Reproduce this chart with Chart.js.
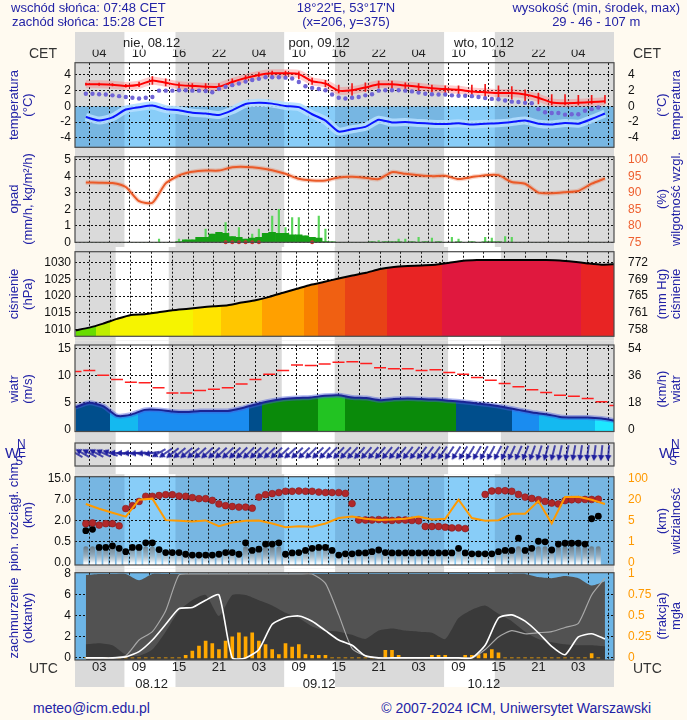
<!DOCTYPE html>
<html lang="pl">
<head>
<meta charset="utf-8">
<title>meteorogram</title>
<script src="https://cdn.jsdelivr.net/npm/chart.js@4.4.1/dist/chart.umd.min.js"></script>
<style>
  body { margin: 0; background: #fffaf0; }
  #page { position: relative; width: 687px; height: 720px; overflow: hidden; background: #fffaf0;
          font-family: "Liberation Sans", Arial, Helvetica, sans-serif; }
  #page canvas { position: absolute; left: 0; }
  .txt { position: absolute; white-space: nowrap; color: #2323a6; font-size: 13px; line-height: 14px; text-align: center; }
  .rot { position: absolute; white-space: nowrap; color: #2323a6; font-size: 13px; line-height: 14px;
         text-align: center; transform: translate(-50%, -50%) rotate(-90deg); }
  .zone { position: absolute; color: #333; font-size: 14px; line-height: 16px; }
  .cmp { position: absolute; color: #2323a6; font-size: 12px; line-height: 12px; }
  .foot { position: absolute; color: #2323a6; font-size: 14px; line-height: 16px; white-space: nowrap; }
</style>
</head>
<body>
<div id="page">
  <canvas id="cTemp"  width="687" height="152" style="top:0px"></canvas>
  <canvas id="cRain"  width="687" height="104" style="top:148px"></canvas>
  <canvas id="cPres"  width="687" height="98"  style="top:243px"></canvas>
  <canvas id="cWind"  width="687" height="102" style="top:337px"></canvas>
  <canvas id="cDir"   width="687" height="41"  style="top:434px"></canvas>
  <canvas id="cBase"  width="687" height="104" style="top:468px"></canvas>
  <canvas id="cCloud" width="687" height="126" style="top:566px"></canvas>

  <div class="txt" style="left:11px;top:1px">wschód słońca: 07:48 CET<br>zachód słońca: 15:28 CET</div>
  <div class="txt" style="left:346px;top:1px;transform:translateX(-50%)">18°22'E, 53°17'N<br>(x=206, y=375)</div>
  <div class="txt" style="right:7px;top:1px">wysokość (min, środek, max)<br>29 - 46 - 107 m</div>

  <div class="zone" style="left:29px;top:45px">CET</div>
  <div class="zone" style="left:633px;top:45px">CET</div>
  <div class="zone" style="left:29px;top:660px">UTC</div>
  <div class="zone" style="left:633px;top:660px">UTC</div>

  <div class="rot" style="left:21px;top:105px">temperatura<br>(°C)</div>
  <div class="rot" style="left:669px;top:105px">(°C)<br>temperatura</div>
  <div class="rot" style="left:21px;top:199px">opad<br>(mm/h, kg/m²/h)</div>
  <div class="rot" style="left:669px;top:199px">(%)<br>wilgotność wzgl.</div>
  <div class="rot" style="left:21px;top:294px">ciśnienie<br>(hPa)</div>
  <div class="rot" style="left:669px;top:294px">(mm Hg)<br>ciśnienie</div>
  <div class="rot" style="left:21px;top:389px">wiatr<br>(m/s)</div>
  <div class="rot" style="left:669px;top:389px">(km/h)<br>wiatr</div>
  <div class="rot" style="left:21px;top:515px">pion. rozciągł. chm.<br>(km)</div>
  <div class="rot" style="left:669px;top:521px">(km)<br>widzialność</div>
  <div class="rot" style="left:21px;top:618px">zachmurzenie<br>(oktanty)</div>
  <div class="rot" style="left:669px;top:616px">(frakcja)<br>mgła</div>

  <div class="cmp" style="left:5px;top:445px;font-size:15px;line-height:15px">W</div>
  <div class="cmp" style="left:17px;top:438px">N</div>
  <div class="cmp" style="left:18px;top:447px">E</div>
  <div class="cmp" style="left:15px;top:455px">S</div>
  <div class="cmp" style="left:659px;top:445px;font-size:15px;line-height:15px">W</div>
  <div class="cmp" style="left:671px;top:438px">N</div>
  <div class="cmp" style="left:672px;top:447px">E</div>
  <div class="cmp" style="left:669px;top:455px">S</div>

  <div class="foot" style="left:33px;top:700px">meteo@icm.edu.pl</div>
  <div class="foot" style="right:36px;top:700px">© 2007-2024 ICM, Uniwersytet Warszawski</div>
</div>

<script>
// time axis: hours UTC counted from 08.12 00:00
const hours = Array.from({ length: 78 }, (_, i) => i + 1);
const hours2 = Array.from({ length: 40 }, (_, i) => 2 * i + 1);
const gridHours = Array.from({ length: 26 }, (_, i) => 3 * (i + 1));
const labelHours = [3, 9, 15, 21, 27, 33, 39, 45, 51, 57, 63, 69, 75];
const cetLabels = ['04', '10', '16', '22', '04', '10', '16', '22', '04', '10', '16', '22', '04'];
const utcLabels = ['03', '09', '15', '21', '03', '09', '15', '21', '03', '09', '15', '21', '03'];
const dateHours = [12, 36.2, 60];
const dateTopLabels = ['nie, 08.12', 'pon, 09.12', 'wto, 10.12'];
const dateBottomLabels = ['08.12', '09.12', '10.12'];
const sunriseH = [6.8, 30.8, 54.83];
const sunsetH = [14.47, 38.45, 62.45];

// temperature (°C), 2-hourly
const tempAir = [2.8, 2.8, 2.75, 2.6, 2.75, 3.3, 3.0, 2.7, 2.6, 2.5, 2.5, 3.1, 3.6, 4.0, 4.2, 4.2, 4.1, 3.2, 2.9, 2.0,
  2.05, 2.4, 2.8, 2.8, 2.65, 2.5, 2.3, 2.2, 2.1, 1.9, 1.8, 1.7, 1.7, 1.5, 1.1, 0.5, 0.4, 0.45, 0.55, 0.65];
const tempLow = [2.7, 2.65, 2.6, 2.45, 2.5, 2.8, 2.6, 2.3, 2.2, 2.1, 2.1, 2.7, 3.3, 3.7, 3.9, 3.7, 3.5, 2.8, 2.5, 1.7,
  1.4, 1.9, 2.3, 2.2, 2.1, 2.0, 1.8, 1.6, 1.5, 1.1, 1.0, 1.0, 0.9, 0.6, 0.3, 0.2, 0.2, 0.2, 0.3, 0.4];
const tempHigh = [2.95, 2.95, 2.9, 2.8, 3.1, 3.8, 3.5, 3.0, 2.9, 2.9, 2.9, 3.5, 3.9, 4.3, 4.5, 4.5, 4.4, 3.6, 3.3, 2.7,
  2.9, 3.0, 3.2, 3.2, 3.0, 2.9, 2.7, 2.6, 2.6, 2.7, 2.8, 2.6, 2.5, 2.1, 1.7, 1.5, 1.5, 1.4, 1.4, 1.4];
const tempSensed = [-1.35, -1.8, -1.4, -0.4, -0.1, 0.1, -0.35, -0.5, -0.8, -0.9, -1.1, -0.5, 0.3, 0.45, 0.35, 0.05, -0.1, -1.0, -1.8, -3.2,
  -2.9, -2.6, -1.7, -2.05, -2.0, -2.1, -2.2, -2.25, -2.15, -2.3, -2.2, -2.15, -2.0, -1.8, -2.2, -2.3, -2.1, -2.2, -1.6, -0.9];
// dew point (°C), hourly
const dewPoint = [1.6, 1.6, 1.55, 1.5, 1.4, 1.3, 1.2, 1.1, 1.0, 1.1, 1.2,
  2.0, 2.0, 2.0, 2.05, 2.05, 2.0, 2.0, 1.95, 1.8,
  2.2, 2.5, 2.7, 2.9, 3.15, 3.35, 3.5,
  3.7, 3.7, 3.7, 3.65, 3.55, 3.1,
  2.55, 2.35, 2.2, 2.05, 1.5, 1.1, 1.0,
  1.1, 1.2, 1.4, 1.55, 2.0, 2.05, 2.05,
  2.05, 2.0, 1.9, 1.75, 1.6, 1.55, 1.5, 1.5,
  1.4, 1.35, 1.35, 1.3, 1.2, 1.05, 0.95,
  0.9, 0.75, 0.6, 0.55, 0.45, 0.4,
  -0.35, -0.75, -0.85, -0.85, -1.05, -1.0, -1.0, -0.55, -0.35, -0.15];

// precipitation (mm/h), hourly; relative humidity (%), 2-hourly
const precipMain = [0, 0, 0, 0, 0, 0, 0, 0, 0, 0, 0, 0, 0, 0,
  0.05, 0.15, 0.15, 0.3, 0.3, 0.5, 0.6, 0.55, 0.35, 0.3, 0.2, 0.25, 0.3, 0.55, 0.6, 0.55, 0.55, 0.45, 0.45, 0.4, 0.3, 0.25, 0.05, 0.02,
  0, 0, 0, 0, 0, 0.02, 0, 0.02, 0.03, 0.02, 0, 0.02, 0, 0.02, 0, 0.02, 0, 0, 0.02, 0,
  0.02, 0, 0.02, 0.03, 0.02, 0, 0, 0, 0, 0, 0, 0, 0, 0, 0, 0, 0, 0, 0, 0];
const precipMax = [0, 0, 0, 0, 0, 0, 0, 0, 0, 0, 0, 0.2, 0, 0,
  0.2, 0.15, 0.15, 0.3, 0.8, 0.5, 0.6, 1.2, 0.35, 0.9, 0.2, 0.5, 0.8, 0.55, 1.6, 2.0, 0.9, 1.5, 1.5, 0.4, 0.3, 1.6, 0.8, 0.02,
  0, 0, 0, 0, 0, 0.02, 0.1, 0.02, 0.03, 0.2, 0.2, 0.02, 0.3, 0.02, 0.25, 0.02, 0, 0.3, 0.2, 0,
  0.02, 0, 0.3, 0.25, 0.02, 0.35, 0.3, 0, 0, 0, 0, 0, 0, 0, 0, 0, 0, 0, 0, 0];
const freezeHours = [22, 23, 24, 25, 26, 27, 35];
const humidity = [93.2, 93.1, 93.0, 91.8, 87.5, 87.0, 92.9, 95.3, 96.4, 96.8, 96.8, 97.8, 97.9, 97.6, 96.9, 95.8, 94.3, 93.8, 93.8, 94.7,
  94.9, 94.6, 94.2, 96.3, 95.8, 95.4, 95.1, 95.2, 94.2, 94.8, 95.4, 95.4, 93.3, 92.8, 90.1, 89.9, 90.2, 90.6, 92.8, 94.4];

// sea level pressure (hPa), 2-hourly
const pressure = [1009.8, 1010.6, 1011.8, 1013.2, 1014.4, 1014.6, 1015.2, 1015.8, 1016.2, 1016.6,
  1017.0, 1017.3, 1018.1, 1018.8, 1019.8, 1021.0, 1022.2, 1023.4, 1024.3, 1025.3,
  1026.2, 1027.0, 1028.1, 1028.7, 1029.0, 1029.2, 1029.4, 1030.0, 1030.6, 1030.8,
  1030.8, 1030.8, 1030.8, 1030.8, 1030.8, 1030.7, 1030.3, 1029.8, 1029.4, 1029.6];

// wind (m/s), 2-hourly; direction (deg, from), hourly
const windSpeed = [4.1, 4.9, 4.3, 2.5, 2.7, 3.6, 3.6, 3.3, 3.2, 3.4, 3.4, 3.4, 3.9, 4.6, 5.2, 5.6, 5.8, 5.9, 6.2, 6.3,
  5.9, 5.8, 5.4, 5.6, 5.7, 5.6, 5.5, 5.3, 5.1, 4.8, 4.5, 4.1, 3.6, 3.1, 2.8, 2.3, 2.2, 2.2, 2.0, 1.6];
const windGust = [10.7, 10.9, 10.0, 9.2, 8.7, 8.6, 7.7, 6.7, 6.7, 7.2, 7.4, 7.7, 8.4, 9.2, 10.2, 10.9, 11.9, 11.8, 12.1, 12.4,
  12.5, 12.2, 11.4, 11.2, 11.2, 10.9, 11.0, 10.5, 10.2, 9.6, 9.1, 8.5, 7.9, 7.3, 6.8, 6.3, 6.1, 5.7, 5.1, 4.4];
const windDirFrom = [120, 120, 118, 118, 115, 110, 95, 90, 88, 85, 85, 80,
  60, 55, 52, 50, 50, 50, 48, 48,
  47, 47, 46, 46, 45, 45, 46, 46, 47, 47, 48, 48, 47, 46, 45, 45, 44, 44, 43, 43, 42, 42, 42, 41, 41, 40, 40, 40, 39, 39,
  38, 37, 36, 35, 34, 33, 32, 31, 30, 29, 28, 27, 26, 25,
  24, 22, 20, 18, 16, 14, 13, 12, 10, 9, 8, 7, 6, 5];

// cloud top / base (km), hourly; visibility (km), 2-hourly
const cloudTop = [1.8, 1.85, 1.7, 1.8, 1.8, 1.65, 4.9, 5.6, 6.6, 8.3, 8.3, 8.6, 8.9, 8.9, 8.4, 8.3, 7.8, 7.4, 7.4, 6.85,
  6.0, 5.6, 5.4, 5.25, 5.25, 5.0, 8.0, 8.9, 9.3, 9.7, 10.2, 10.2, 10.3, 10.2, 10.2, 9.9, 9.7, 9.7, 9.7, 9.4,
  6.1, 2.2, 2.2, 2.2, 2.3, 2.2, 2.1, 2.2, 2.2, 2.1, 2.0, 1.6, 1.6, 1.6, 1.55, 1.5, 1.5, 1.45, null, null,
  9.0, 10.3, 10.4, 10.4, 10.2, 9.0, 8.0, 7.5, 7.0, 6.6, 6.2, 6.0, 6.8, 7.0, 7.0, 7.1, 7.1, 7.2];
const cloudBase = [1.3, 1.4, 0.37, 0.37, 0.41, 0.35, 0.27, 0.37, 0.37, 0.48, 0.48, 0.32, 0.25, 0.25, 0.25, 0.21, 0.19, 0.19, 0.19, 0.19,
  0.21, 0.25, 0.25, 0.21, 0.48, 0.3, 0.33, 0.45, 0.45, 0.48, 0.21, 0.24, 0.25, 0.3, 0.35, 0.37, 0.37, 0.3, 0.19, 0.22,
  0.22, 0.24, 0.24, 0.27, 0.31, 0.25, 0.24, 0.24, 0.24, 0.24, 0.24, 0.24, 0.24, 0.24, 0.24, 0.24, 0.35, 0.24, 0.22, 0.22,
  0.22, 0.22, 0.27, 0.3, 0.3, 0.77, 0.3, 0.35, 0.55, 0.51, 0.31, 0.45, 0.47, 0.47, 0.47, 0.45, 2.5, 3.1];
const visibility = [17, 13.6, 10.7, 8.0, 20, 24, 5.5, 5.0, 4.9, 5.3, 4.0, 4.7, 5.0, 5.2, 4.5, 3.8, 4.0, 3.9, 4.5, 7.0,
  8.0, 6.5, 5.6, 6.0, 6.5, 8.0, 6.0, 6.5, 20, 7.0, 5.0, 5.5, 10, 10, 19, 4.5, 30, 31, 20, 17];

// cloud cover (octants), 2-hourly; fog (fraction), hourly
const cloudTotal = [7.9, 8, 8, 8, 7.4, 8, 8, 8, 8, 8, 8, 8, 8, 8, 8, 8, 8, 8, 8, 8,
  8, 8, 8, 8, 8, 8, 8, 8, 8, 8, 8, 8, 8, 8, 7.7, 7.6, 7.8, 7.6, 6.9, 7.3];
const cloudLowMid = [1.3, 1.4, 1.2, 0.3, 0.2, 0.8, 2.5, 4.5, 5.5, 6.0, 4.0, 6.0, 6.0, 5.5, 5.0, 4.3, 3.8, 3.0, 2.6, 2.5,
  2.2, 1.8, 2.6, 2.8, 2.6, 2.5, 2.4, 1.8, 3.8, 4.6, 5.0, 4.2, 3.5, 2.5, 1.8, 1.5, 1.3, 1.2, 1.2, 1.1];
const cloudLineWhite = [0, 0, 0, 0.1, 0.6, 1.7, 3.2, 4.7, 4.8, 5.5, 6.0, 0, 0, 0.8, 3.2, 3.85, 4.0, 3.5, 2.6, 1.7,
  1.2, 0.2, 0, 0, 0, 0, 0, 0, 0, 0, 1.2, 3.8, 4.1, 3.5, 2.4, 1.1, 0.3, 2.0, 2.3, 1.8];
const cloudLineGrey = [0, 0, 0, 0.2, 1.7, 2.5, 4.5, 7.9, 8, 8, 8, 8, 8, 8, 8, 8, 8, 8, 7.1, 4.1,
  0.9, 0.2, 0, 0, 0, 0, 0, 0, 0, 0, 0.8, 2.0, 2.6, 2.3, 2.4, 2.5, 2.9, 3.3, 6.0, 7.6];
const fogFraction = [0, 0, 0, 0, 0, 0, 0, 0, 0, 0, 0, 0, 0, 0, 0,
  0.03, 0.08, 0.14, 0.2, 0.17, 0.1, 0.2, 0.25, 0.3, 0.25, 0.3, 0.2, 0.16, 0.1, 0.04, 0.17, 0.13, 0.16, 0.04, 0.03, 0.03, 0.03,
  0, 0, 0, 0, 0, 0, 0, 0, 0.09, 0.09, 0.03, 0, 0, 0, 0, 0.03, 0.03, 0.03, 0, 0, 0.03, 0.03, 0.04, 0.05, 0.1, 0.06,
  0, 0, 0, 0, 0, 0, 0, 0, 0, 0, 0, 0, 0, 0.05, 0];

// axis ticks
const tempTicks = [-4, -2, 0, 2, 4];
const tempTickLabels = ['-4', '-2', '0', '2', '4'];
const rainTicks = [0, 1, 2, 3, 4, 5];
const rainTickLabels = ['0', '1', '2', '3', '4', '5'];
const humTicks = [75, 80, 85, 90, 95, 100];
const humTickLabels = ['75', '80', '85', '90', '95', '100'];
const presTicks = [1010, 1015, 1020, 1025, 1030];
const presTickLabels = ['1010', '1015', '1020', '1025', '1030'];
const presMmLabels = ['758', '761', '765', '769', '772'];
const windTicks = [0, 5, 10, 15];
const windTickLabels = ['0', '5', '10', '15'];
const windKmhTicks = [0, 18, 36, 54];
const windKmhLabels = ['0', '18', '36', '54'];
const baseKnots = [0, 0.5, 2, 7, 15];
const baseTickLabels = ['0.0', '0.5', '2.0', '7.0', '15.0'];
const visKnots = [0, 1, 5, 20, 100];
const visTickLabels = ['0', '1', '5', '20', '100'];
const cloudTicks = [0, 2, 4, 6, 8];
const cloudTickLabels = ['0', '2', '4', '6', '8'];
const fogTicks = [0, 0.25, 0.5, 0.75, 1];
const fogTickLabels = ['0', '0.25', '0.5', '0.75', '1'];

const X_MIN = 0.93, X_MAX = 78.8;
const GRID = '#111';
const NIGHT_GREY = '#dadada';
const BLUE_NIGHT = '#77b6e2', BLUE_DAY = '#88cdf8', SKY = '#6db5e6';

Chart.defaults.font.family = '"Liberation Sans", Arial, Helvetica, sans-serif';
Chart.defaults.font.size = 12;
Chart.defaults.color = '#111';

const pts = (xs, ys) => xs.map((x, i) => ({ x: x, y: ys[i] }));

// piecewise axis for cloud heights and visibility: knots sit on equally spaced ticks
function toIdx(v, knots) {
  if (v == null) return null;
  for (let i = 1; i < knots.length; i++) {
    if (v <= knots[i]) return i - 1 + (v - knots[i - 1]) / (knots[i] - knots[i - 1]);
  }
  return knots.length - 1;
}

const presColors = [[1011, '#66dc00'], [1013, '#bdee00'], [1016.5, '#f6f400'], [1017.2, '#ffe400'], [1019, '#ffc600'],
  [1022.3, '#ffa000'], [1024.3, '#f88000'], [1026, '#f06012'], [1028.2, '#e84216'], [1030, '#e82424'], [9999, '#e0183e']];
const presColor = p => presColors.find(c => p < c[0])[1];
const windColors = [[2.05, '#1ee6ff'], [3.0, '#14b9f0'], [4.05, '#1a8cf0'], [5.15, '#004e8c'], [6.1, '#0a8a0a'], [99, '#22c322']];
const windColor = v => windColors.find(c => v < c[0])[1];

// fill under a line, coloured in vertical strips by value
function stripFill(values, colorOf) {
  return ctx => {
    const chart = ctx.chart, a = chart.chartArea;
    if (!a) return 'transparent';
    const x = chart.scales.x, w = a.right - a.left;
    const g = chart.ctx.createLinearGradient(a.left, 0, a.right, 0);
    const frac = h => Math.min(1, Math.max(0, (x.getPixelForValue(h) - a.left) / w));
    hours2.forEach((h, i) => {
      const col = colorOf(values[i]);
      g.addColorStop(frac(h - 1), col);
      g.addColorStop(frac(h + 1), col);
    });
    return g;
  };
}

// day/night bands and panel backgrounds
const meteoPlugin = {
  id: 'meteo',
  beforeDraw(chart, args, o) {
    const { ctx, chartArea: a, scales } = chart;
    const x = scales.x, w = a.right - a.left;
    const dayRects = (top, h, color) => {
      ctx.fillStyle = color;
      sunriseH.forEach((s, i) => {
        const x0 = Math.max(a.left, x.getPixelForValue(s));
        const x1 = Math.min(a.right, x.getPixelForValue(sunsetH[i]));
        if (x1 > x0) ctx.fillRect(x0, top, x1 - x0, h);
      });
    };
    ctx.save();
    ctx.fillStyle = NIGHT_GREY;
    ctx.fillRect(a.left, o.bandTop, w, o.bandBottom - o.bandTop);
    dayRects(o.bandTop, o.bandBottom - o.bandTop, '#ffffff');
    if (o.panel === 'frost') {
      const y0 = scales.y.getPixelForValue(0);
      ctx.fillStyle = BLUE_NIGHT;
      ctx.fillRect(a.left, y0, w, a.bottom - y0);
      dayRects(y0, a.bottom - y0, BLUE_DAY);
    } else if (o.panel === 'blue') {
      ctx.fillStyle = BLUE_NIGHT;
      ctx.fillRect(a.left, a.top, w, a.bottom - a.top);
      dayRects(a.top, a.bottom - a.top, BLUE_DAY);
    } else if (o.panel === 'sky') {
      ctx.fillStyle = SKY;
      ctx.fillRect(a.left, a.top, w, a.bottom - a.top);
    }
    ctx.restore();
  },
  afterDraw(chart) {
    const { ctx, chartArea: a } = chart;
    ctx.save();
    ctx.strokeStyle = '#4a4a4a';
    ctx.lineWidth = 1.2;
    ctx.strokeRect(a.left, a.top, a.right - a.left, a.bottom - a.top);
    ctx.restore();
  }
};

function makeChart(id, cfg) {
  const skip = cfg.gridSkip || [];
  const noPad = s => { s.paddingTop = 0; s.paddingBottom = 0; s.paddingLeft = 0; s.paddingRight = 0; };
  const scales = {
    x: {
      type: 'linear', min: X_MIN, max: X_MAX, position: cfg.xPos || 'bottom', z: 1, weight: 0,
      afterBuildTicks: s => { s.ticks = gridHours.map(v => ({ value: v })); },
      afterFit: s => { s.height = cfg.xHeight || 0; noPad(s); },
      grid: { color: GRID, drawTicks: false, borderDash: [2, 2] },
      border: { display: false, dash: [2, 2] },
      ticks: {
        display: !!cfg.xLabels, autoSkip: false, maxRotation: 0, padding: cfg.xPad || 0,
        font: { size: 13 }, color: '#222',
        callback: v => { const i = labelHours.indexOf(v); return (i < 0 || !cfg.xLabels) ? '' : cfg.xLabels[i]; }
      }
    },
    y: {
      type: 'linear', min: cfg.yMin, max: cfg.yMax, position: 'left', z: 1,
      afterFit: s => { s.width = 75; noPad(s); },
      grid: {
        display: !!cfg.yTicks, drawTicks: false, borderDash: [2, 2],
        color: c => (c.tick && skip.includes(c.tick.value)) ? 'rgba(0,0,0,0)' : GRID
      },
      border: { display: false, dash: [2, 2] },
      ticks: { display: !!cfg.yTicks, autoSkip: false, padding: 4, color: '#111',
               callback: (v, i) => cfg.yLabels ? cfg.yLabels[i] : '' }
    },
    y2: {
      type: 'linear', min: cfg.y2Min ?? cfg.yMin, max: cfg.y2Max ?? cfg.yMax, position: 'right', z: 1,
      afterFit: s => { s.width = 73; noPad(s); },
      grid: { display: false },
      border: { display: false },
      ticks: { display: !!cfg.y2Ticks, autoSkip: false, padding: 6, color: cfg.y2Color || '#111',
               callback: (v, i) => cfg.y2Labels ? cfg.y2Labels[i] : '' }
    }
  };
  if (cfg.yTicks) scales.y.afterBuildTicks = s => { s.ticks = cfg.yTicks.map(v => ({ value: v })); };
  if (cfg.y2Ticks) scales.y2.afterBuildTicks = s => { s.ticks = cfg.y2Ticks.map(v => ({ value: v })); };
  if (cfg.dateLabels) {
    scales.xd = {
      type: 'linear', min: X_MIN, max: X_MAX, position: cfg.xPos, weight: 10, z: 1,
      afterBuildTicks: s => { s.ticks = dateHours.map(v => ({ value: v })); },
      afterFit: s => { s.height = cfg.dateHeight; noPad(s); },
      grid: { display: false },
      border: { display: false },
      ticks: { autoSkip: false, maxRotation: 0, padding: cfg.datePad || 0, font: { size: 13 }, color: '#222',
               callback: (v, i) => cfg.dateLabels[i] }
    };
  }
  return new Chart(document.getElementById(id), {
    type: 'line',
    data: { datasets: cfg.datasets },
    options: {
      responsive: false, animation: false, events: [],
      layout: { padding: { top: cfg.padTop, bottom: cfg.padBottom, left: 0, right: 0 } },
      elements: { point: { radius: 0 }, line: { tension: 0.2 } },
      plugins: {
        legend: { display: false }, tooltip: { enabled: false },
        meteo: { bandTop: cfg.bandTop, bandBottom: cfg.bandBottom, panel: cfg.panel || 'none' }
      },
      scales: scales
    },
    plugins: [meteoPlugin]
  });
}

// temperatura
makeChart('cTemp', {
  padTop: 32, padBottom: 4.7, bandTop: 32, bandBottom: 152, panel: 'frost',
  xPos: 'top', xHeight: 12.9, xPad: 1.9, xLabels: cetLabels, dateLabels: dateTopLabels, dateHeight: 17.8, datePad: -9,
  yMin: -5.2, yMax: 5.55, yTicks: tempTicks, yLabels: tempTickLabels, y2Ticks: tempTicks, y2Labels: tempTickLabels,
  datasets: [
    { data: pts(hours, dewPoint), showLine: false, pointRadius: 2.2, pointBackgroundColor: '#7065d6', pointBorderWidth: 0, order: 0 },
    { data: pts(hours2, tempAir), borderColor: '#ff0000', borderWidth: 2, order: 1 },
    { type: 'bar', data: hours2.map((h, i) => ({ x: h, y: [tempLow[i], tempHigh[i]] })), backgroundColor: '#f01818',
      barThickness: 1, grouped: false, order: 2 },
    { data: pts(hours2, tempAir), borderColor: 'rgba(255,110,110,0.35)', borderWidth: 8, order: 3 },
    { data: pts(hours2, tempSensed), borderColor: '#0a14ff', borderWidth: 2, order: 4 },
    { data: pts(hours2, tempSensed), borderColor: 'rgba(180,222,255,0.9)', borderWidth: 8, order: 5 }
  ]
});

// opad i wilgotność
makeChart('cRain', {
  padTop: 8.7, padBottom: 9.7, bandTop: 4, bandBottom: 99,
  yMin: 0, yMax: 5.2, yTicks: rainTicks, yLabels: rainTickLabels,
  y2Min: 75, y2Max: 101, y2Ticks: humTicks, y2Labels: humTickLabels, y2Color: '#ee6030',
  datasets: [
    { data: pts(hours2, humidity), yAxisID: 'y2', borderColor: '#ea5a28', borderWidth: 2, order: 0 },
    { data: pts(hours2, humidity), yAxisID: 'y2', borderColor: 'rgba(234,90,40,0.25)', borderWidth: 4.5, order: 1 },
    { data: freezeHours.map(h => ({ x: h, y: 0 })), showLine: false, pointRadius: 2, pointBackgroundColor: '#d03030',
      pointBorderWidth: 0, clip: false, order: 2 },
    { type: 'bar', data: pts(hours, precipMain), backgroundColor: '#14a014', barPercentage: 1, categoryPercentage: 1,
      grouped: false, order: 3 },
    { type: 'bar', data: pts(hours, precipMax), backgroundColor: '#5cd65c', barThickness: 1.5, grouped: false, order: 4 }
  ]
});

// ciśnienie
makeChart('cPres', {
  padTop: 8.7, padBottom: 4.7, bandTop: 4, bandBottom: 97.6,
  yMin: 1008, yMax: 1033.3, yTicks: presTicks, yLabels: presTickLabels, y2Ticks: presTicks, y2Labels: presMmLabels,
  datasets: [
    { data: pts(hours2, pressure), borderColor: '#000', borderWidth: 2, fill: 'start',
      backgroundColor: stripFill(pressure, presColor) }
  ]
});

// wiatr
makeChart('cWind', {
  padTop: 8, padBottom: 5.5, bandTop: 3.6, bandBottom: 99,
  yMin: -0.4, yMax: 15.6, yTicks: windTicks, yLabels: windTickLabels, gridSkip: [0],
  y2Min: -0.4 * 3.6, y2Max: 15.6 * 3.6, y2Ticks: windKmhTicks, y2Labels: windKmhLabels,
  datasets: [
    { data: pts(hours2, windGust), showLine: false, pointStyle: 'line', pointRadius: 6, pointBorderColor: '#ff2020',
      pointBorderWidth: 1.5, order: 0 },
    { data: pts(hours2, windSpeed), borderColor: '#1a2494', borderWidth: 2, order: 1 },
    { data: pts(hours2, windSpeed), borderColor: 'rgba(70,90,220,0.45)', borderWidth: 5, fill: 'start',
      backgroundColor: stripFill(windSpeed, windColor), order: 2 }
  ]
});

// kierunek wiatru
const arrowImg = (() => {
  const c = document.createElement('canvas');
  c.width = 18; c.height = 18;
  const g = c.getContext('2d');
  g.strokeStyle = g.fillStyle = '#1f1f9e';
  g.lineWidth = 1.6;
  g.beginPath(); g.moveTo(1, 9); g.lineTo(12, 9); g.stroke();
  g.beginPath(); g.moveTo(17, 9); g.lineTo(11, 5.8); g.lineTo(11, 12.2); g.closePath(); g.fill();
  return c;
})();
const arrowLevel = 0.56;
makeChart('cDir', {
  padTop: 4.3, padBottom: 3.3, bandTop: 2, bandBottom: 40.2,
  yMin: 0, yMax: 1,
  datasets: [
    { data: hours.map(h => ({ x: h, y: arrowLevel })), showLine: false, pointStyle: arrowImg, pointRadius: 8,
      pointRotation: c => windDirFrom[c.dataIndex] + 90 }
  ]
});

// chmury i widzialność
makeChart('cBase', {
  padTop: 8.7, padBottom: 7, bandTop: 6.2, bandBottom: 100.8, panel: 'blue',
  yMin: -0.09, yMax: 4.09, yTicks: [0, 1, 2, 3, 4], yLabels: baseTickLabels, gridSkip: [0, 4],
  y2Ticks: [0, 1, 2, 3, 4], y2Labels: visTickLabels, y2Color: '#ff9900',
  datasets: [
    { data: pts(hours2, visibility.map(v => toIdx(v, visKnots))), yAxisID: 'y2', borderColor: '#ff9a00', borderWidth: 2,
      tension: 0, order: 0 },
    { data: pts(hours, cloudTop.map(v => toIdx(v, baseKnots))), showLine: false, pointRadius: 3.4,
      pointBackgroundColor: '#b0282a', pointBorderColor: '#8a1a1a', pointBorderWidth: 0.6, order: 1 },
    { data: pts(hours, cloudBase.map(v => toIdx(v, baseKnots))), showLine: false, pointRadius: 3.4,
      pointBackgroundColor: '#000', pointBorderWidth: 0, order: 2 },
    { type: 'bar', grouped: false, barPercentage: 0.75, categoryPercentage: 1, borderRadius: 3, order: 3,
      data: hours.map((h, i) => ({ x: h, y: [-0.09, Math.min(toIdx(cloudBase[i], baseKnots), 0.8)] })),
      backgroundColor: c => {
        const a = c.chart.chartArea;
        if (!a) return '#999';
        const y = c.chart.scales.y;
        const g = c.chart.ctx.createLinearGradient(0, y.getPixelForValue(0.9), 0, y.getPixelForValue(0));
        g.addColorStop(0, 'rgba(80,80,80,0.75)');
        g.addColorStop(0.55, 'rgba(160,160,160,0.6)');
        g.addColorStop(1, 'rgba(255,255,255,0.95)');
        return g;
      } }
  ]
});

// zachmurzenie i mgła
makeChart('cCloud', {
  padTop: 6.7, padBottom: 0.8, bandTop: 2.8, bandBottom: 121, panel: 'sky',
  xPos: 'bottom', xHeight: 15.2, xPad: 0, xLabels: utcLabels, dateLabels: dateBottomLabels, dateHeight: 16, datePad: -7,
  yMin: -0.2, yMax: 8.12, yTicks: cloudTicks, yLabels: cloudTickLabels, gridSkip: [8],
  y2Min: -0.025, y2Max: 1.015, y2Ticks: fogTicks, y2Labels: fogTickLabels, y2Color: '#ff9900',
  datasets: [
    { data: pts(hours2, cloudLineWhite), borderColor: '#ffffff', borderWidth: 1.6, order: 0 },
    { data: pts(hours2, cloudLineGrey), borderColor: '#a8a8a8', borderWidth: 1.2, order: 1 },
    { type: 'bar', data: pts(hours, fogFraction), yAxisID: 'y2', backgroundColor: '#ffa800', barThickness: 3,
      grouped: false, order: 2 },
    { data: pts(hours2, cloudLowMid), borderWidth: 0, borderColor: 'rgba(0,0,0,0)', fill: 'start',
      backgroundColor: '#3a3a3a', order: 3 },
    { data: pts(hours2, cloudTotal), borderWidth: 0, borderColor: 'rgba(0,0,0,0)', fill: 'start',
      backgroundColor: '#525252', order: 4 }
  ]
});
</script>
</body>
</html>
